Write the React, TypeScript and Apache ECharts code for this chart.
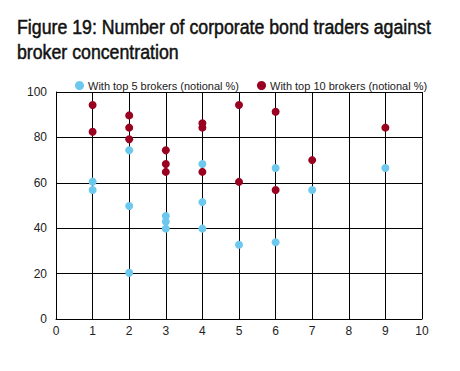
import React, { useEffect, useRef } from "react";
import * as echarts from "echarts";

const seriesNames = ["With top 5 brokers (notional %)", "With top 10 brokers (notional %)"];
const top5: [number, number][] = [
  [1, 60.5], [1, 56.8],
  [2, 74.3], [2, 49.8], [2, 20.4],
  [3, 45.4], [3, 42.9], [3, 39.8],
  [4, 68.3], [4, 51.5], [4, 39.8],
  [5, 32.7],
  [6, 66.5], [6, 33.8],
  [7, 56.8],
  [9, 66.5],
];
const top10: [number, number][] = [
  [1, 94.3], [1, 82.5],
  [2, 89.7], [2, 84.3], [2, 79.2],
  [3, 74.3], [3, 68.3], [3, 64.8],
  [4, 86.2], [4, 84.3], [4, 64.8],
  [5, 94.3], [5, 60.4],
  [6, 91.3], [6, 56.8],
  [7, 70.0],
  [9, 84.3],
];
const titleLines = ["Figure 19: Number of corporate bond traders against", "broker concentration"];

const FONT = "'Liberation Sans', Arial, Helvetica, sans-serif";

export default function App() {
  const ref = useRef<HTMLDivElement>(null);
  useEffect(() => {
    document.body.style.margin = "0";
    if (!ref.current) return;
    const chart = echarts.init(ref.current, undefined, { renderer: "svg" });
    chart.setOption({
      animation: false,
      backgroundColor: "#fff",
      graphic: titleLines.map((t, i) => ({
        type: "text",
        x: 17,
        y: 17 + i * 25,
        scaleX: 0.887,
        style: {
          text: t,
          fontFamily: FONT,
          fontSize: 20,
          fill: "#111",
          stroke: "#111",
          lineWidth: 0.5,
        },
      })),
      legend: {
        left: 70,
        top: 75,
        itemWidth: 9,
        itemHeight: 9,
        itemGap: 18,
        icon: "circle",
        textStyle: { fontFamily: FONT, fontSize: 11, color: "#222", padding: [0, 0, 0, -1] },
        data: seriesNames,
      },
      grid: { left: 56, right: 38, top: 92, bottom: 52 },
      xAxis: {
        type: "value",
        min: 0,
        max: 10,
        interval: 1,
        axisLine: { show: true, lineStyle: { color: "#000" } },
        axisTick: { show: false },
        axisLabel: { fontFamily: FONT, fontSize: 12, color: "#222", margin: 6 },
        splitLine: { show: true, lineStyle: { color: "#000", width: 1 } },
      },
      yAxis: {
        type: "value",
        min: 0,
        max: 100,
        interval: 20,
        axisLine: { show: true, lineStyle: { color: "#000" } },
        axisTick: { show: false },
        axisLabel: { fontFamily: FONT, fontSize: 12, color: "#222", margin: 9 },
        splitLine: { show: true, lineStyle: { color: "#000", width: 1 } },
      },
      series: [
        {
          name: seriesNames[0],
          type: "scatter",
          data: top5,
          symbolSize: 8,
          itemStyle: { color: "#6DC8EE", opacity: 1 },
        },
        {
          name: seriesNames[1],
          type: "scatter",
          data: top10,
          symbolSize: 8,
          itemStyle: { color: "#9A0020", opacity: 1 },
        },
      ],
    });
    return () => chart.dispose();
  }, []);
  return <div ref={ref} style={{ width: 460, height: 371 }} />;
}
